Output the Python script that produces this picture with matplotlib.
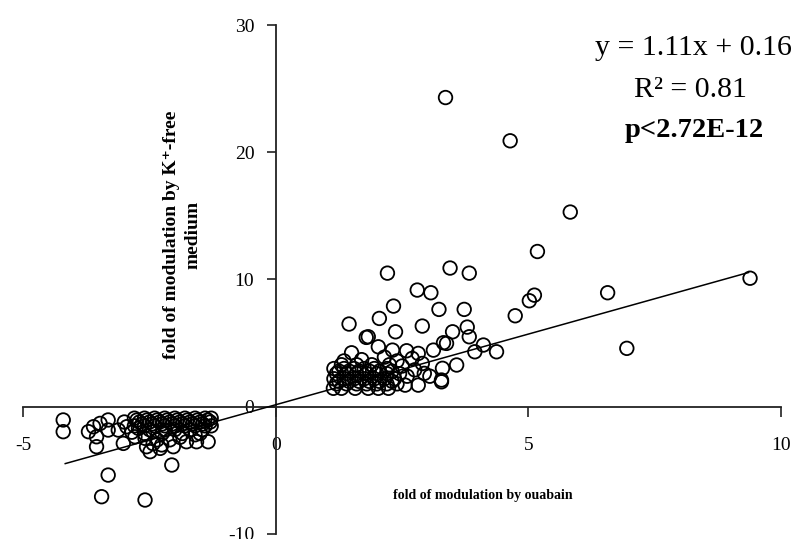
import matplotlib
matplotlib.use("Agg")
import matplotlib.pyplot as plt
import numpy as np

plt.rcParams['font.family'] = ['Liberation Serif', 'DejaVu Serif']
plt.rcParams['axes.unicode_minus'] = False

# fold of modulation by ouabain (x) / by K+-free medium (y)
# sparse points, negative side
neg_x = [-4.21, -4.21, -3.71, -3.61, -3.48, -3.32, -3.55, -3.55, -3.32, -3.12,
         -3.02, -2.95, -2.79, -2.72, -2.59, -2.49, -2.56, -2.29, -2.03, -2.43,
         -2.19, -1.77, -1.57, -1.34, -2.06, -3.32, -3.45, -2.59, -1.90, -2.10,
         -1.60, -2.35, -3.00, -2.85, -2.43, -2.26]
neg_y = [-1.04, -1.96, -1.96, -1.57, -1.31, -1.04, -2.36, -3.14, -1.83, -1.83,
         -2.88, -1.57, -2.36, -1.70, -2.48, -3.53, -3.14, -3.27, -3.14, -1.96,
         -1.83, -2.75, -2.75, -2.75, -4.58, -5.37, -7.07, -7.33, -2.40, -2.60,
         -2.20, -2.60, -1.20, -2.00, -2.90, -3.00]

# dense block, negative side
neg_dense_x = [-2.80, -2.60, -2.40, -2.20, -2.00, -1.80, -1.60, -1.40, -1.28,
               -2.70, -2.50, -2.30, -2.10, -1.90, -1.70, -1.50, -1.30,
               -2.80, -2.60, -2.40, -2.20, -2.00, -1.80, -1.60, -1.40, -1.28,
               -2.75, -2.55, -2.35, -2.15, -1.95, -1.75, -1.55, -1.35,
               -2.65, -2.45, -2.25, -2.05, -1.85, -1.65, -1.45,
               -2.50, -2.00, -1.70, -1.45,
               -2.60, -2.25, -1.85, -1.50]
neg_dense_y = [-0.90, -0.90, -0.90, -0.90, -0.90, -0.90, -0.90, -0.90, -0.90,
               -1.20, -1.20, -1.20, -1.20, -1.20, -1.20, -1.20, -1.20,
               -1.50, -1.50, -1.50, -1.50, -1.50, -1.50, -1.50, -1.50, -1.50,
               -1.05, -1.05, -1.05, -1.05, -1.05, -1.05, -1.05, -1.05,
               -1.35, -1.35, -1.35, -1.35, -1.35, -1.35, -1.35,
               -1.80, -1.80, -1.80, -1.80,
               -2.10, -2.10, -2.10, -2.10]

# sparse points, positive side
pos_x = [3.36, 4.64, 5.83, 5.18, 3.45, 3.83, 6.57, 5.12, 5.02, 4.74,
         9.39, 6.95, 2.80, 3.07, 3.23, 3.73, 2.90, 3.50, 3.79, 3.83,
         3.94, 4.11, 4.37, 2.21, 2.33, 2.05, 1.45, 2.37, 1.79, 3.32,
         1.50, 2.03, 2.31, 2.59, 2.82, 3.12, 3.38, 3.58, 3.30, 2.94,
         3.28, 1.83]
pos_y = [24.3, 20.9, 15.3, 12.2, 10.9, 10.5, 8.96, 8.77, 8.33, 7.15,
         10.1, 4.59, 9.17, 8.96, 7.65, 7.65, 6.34, 5.89, 6.26, 5.50,
         4.32, 4.85, 4.32, 10.5, 7.91, 6.94, 6.50, 5.89, 5.45, 5.03,
         4.24, 4.71, 4.45, 4.40, 4.19, 4.45, 4.98, 3.28, 3.02, 2.62,
         2.10, 5.50]

# dense block, positive side
pos_dense_x = [1.14, 1.30, 1.57, 1.83, 2.03, 2.23,
               1.20, 1.40, 1.60, 1.80, 2.00, 2.20, 2.40,
               1.15, 1.35, 1.55, 1.75, 1.95, 2.15, 2.35,
               1.20, 1.40, 1.60, 1.80, 2.00, 2.20, 2.45,
               1.15, 1.35, 1.55, 1.75, 1.95, 2.20,
               1.30, 1.60, 1.90, 2.25,
               1.25, 1.45, 1.65, 1.85, 2.05, 2.30,
               1.25, 1.45, 1.65, 1.85, 2.05, 2.30,
               2.56, 2.82, 3.28, 2.60, 2.75, 2.50, 2.90, 3.05, 2.40, 2.70,
               2.15, 1.70, 1.35]
pos_dense_y = [1.45, 1.45, 1.45, 1.45, 1.45, 1.45,
               1.80, 1.80, 1.80, 1.80, 1.80, 1.80, 1.80,
               2.20, 2.20, 2.20, 2.20, 2.20, 2.20, 2.20,
               2.60, 2.60, 2.60, 2.60, 2.60, 2.60, 2.60,
               3.00, 3.00, 3.00, 3.00, 3.00, 3.00,
               3.30, 3.30, 3.30, 3.30,
               2.00, 2.00, 2.00, 2.00, 2.00, 2.00,
               2.80, 2.80, 2.80, 2.80, 2.80, 2.80,
               1.70, 1.70, 1.96, 2.40, 2.90, 3.20, 3.40, 2.40, 3.60, 3.80,
               3.90, 3.70, 3.60]

# linear fit
fit_slope = 1.11
fit_intercept = 0.16
fit_range = [-4.17, 9.36]

x_all = np.array(neg_x + neg_dense_x + pos_x + pos_dense_x)
y_all = np.array(neg_y + neg_dense_y + pos_y + pos_dense_y)

fig = plt.figure(figsize=(8.07, 5.39), dpi=100)
ax = fig.add_axes([0.0289, 0.0093, 0.9387, 0.9443])

ax.scatter(x_all, y_all, s=95, facecolors='none', edgecolors='black', linewidths=1.3, zorder=3)

line_x = np.array(fit_range)
ax.plot(line_x, fit_slope * line_x + fit_intercept, color='black', lw=1.1, zorder=4)

ax.set_xlim(-5, 10)
ax.set_ylim(-10, 30)
ax.set_xticks([-5, 0, 5, 10])
ax.set_yticks([-10, 0, 10, 20, 30])

ax.spines['left'].set_position(('data', 0))
ax.spines['bottom'].set_position(('data', 0))
ax.spines['top'].set_visible(False)
ax.spines['right'].set_visible(False)
for s in ['left', 'bottom']:
    ax.spines[s].set_linewidth(1.3)
    ax.spines[s].set_color('#222222')

ax.tick_params(axis='x', direction='out', length=7, width=1.2, pad=15, labelsize=14, color='#222222')
ax.tick_params(axis='y', direction='out', length=6.5, width=1.2, pad=9, labelsize=14, color='#222222')
ax.patch.set_visible(False)

ax.text(4.10, -6.94, 'fold of modulation by ouabain', ha='center', va='center',
        fontsize=10, fontweight='bold')
ax.text(-1.85, 13.5, 'fold of modulation by K⁺-free\nmedium', ha='center', va='center',
        rotation=90, fontsize=14, fontweight='bold', multialignment='center', linespacing=1.35)

ax.text(8.27, 28.2, 'y = 1.11x + 0.16', ha='center', va='center', fontsize=21.5)
ax.text(8.21, 24.9, 'R² = 0.81', ha='center', va='center', fontsize=21.5)
ax.text(8.29, 21.7, 'p<2.72E-12', ha='center', va='center', fontsize=20.5, fontweight='bold')

plt.savefig('out.png', dpi=100)
